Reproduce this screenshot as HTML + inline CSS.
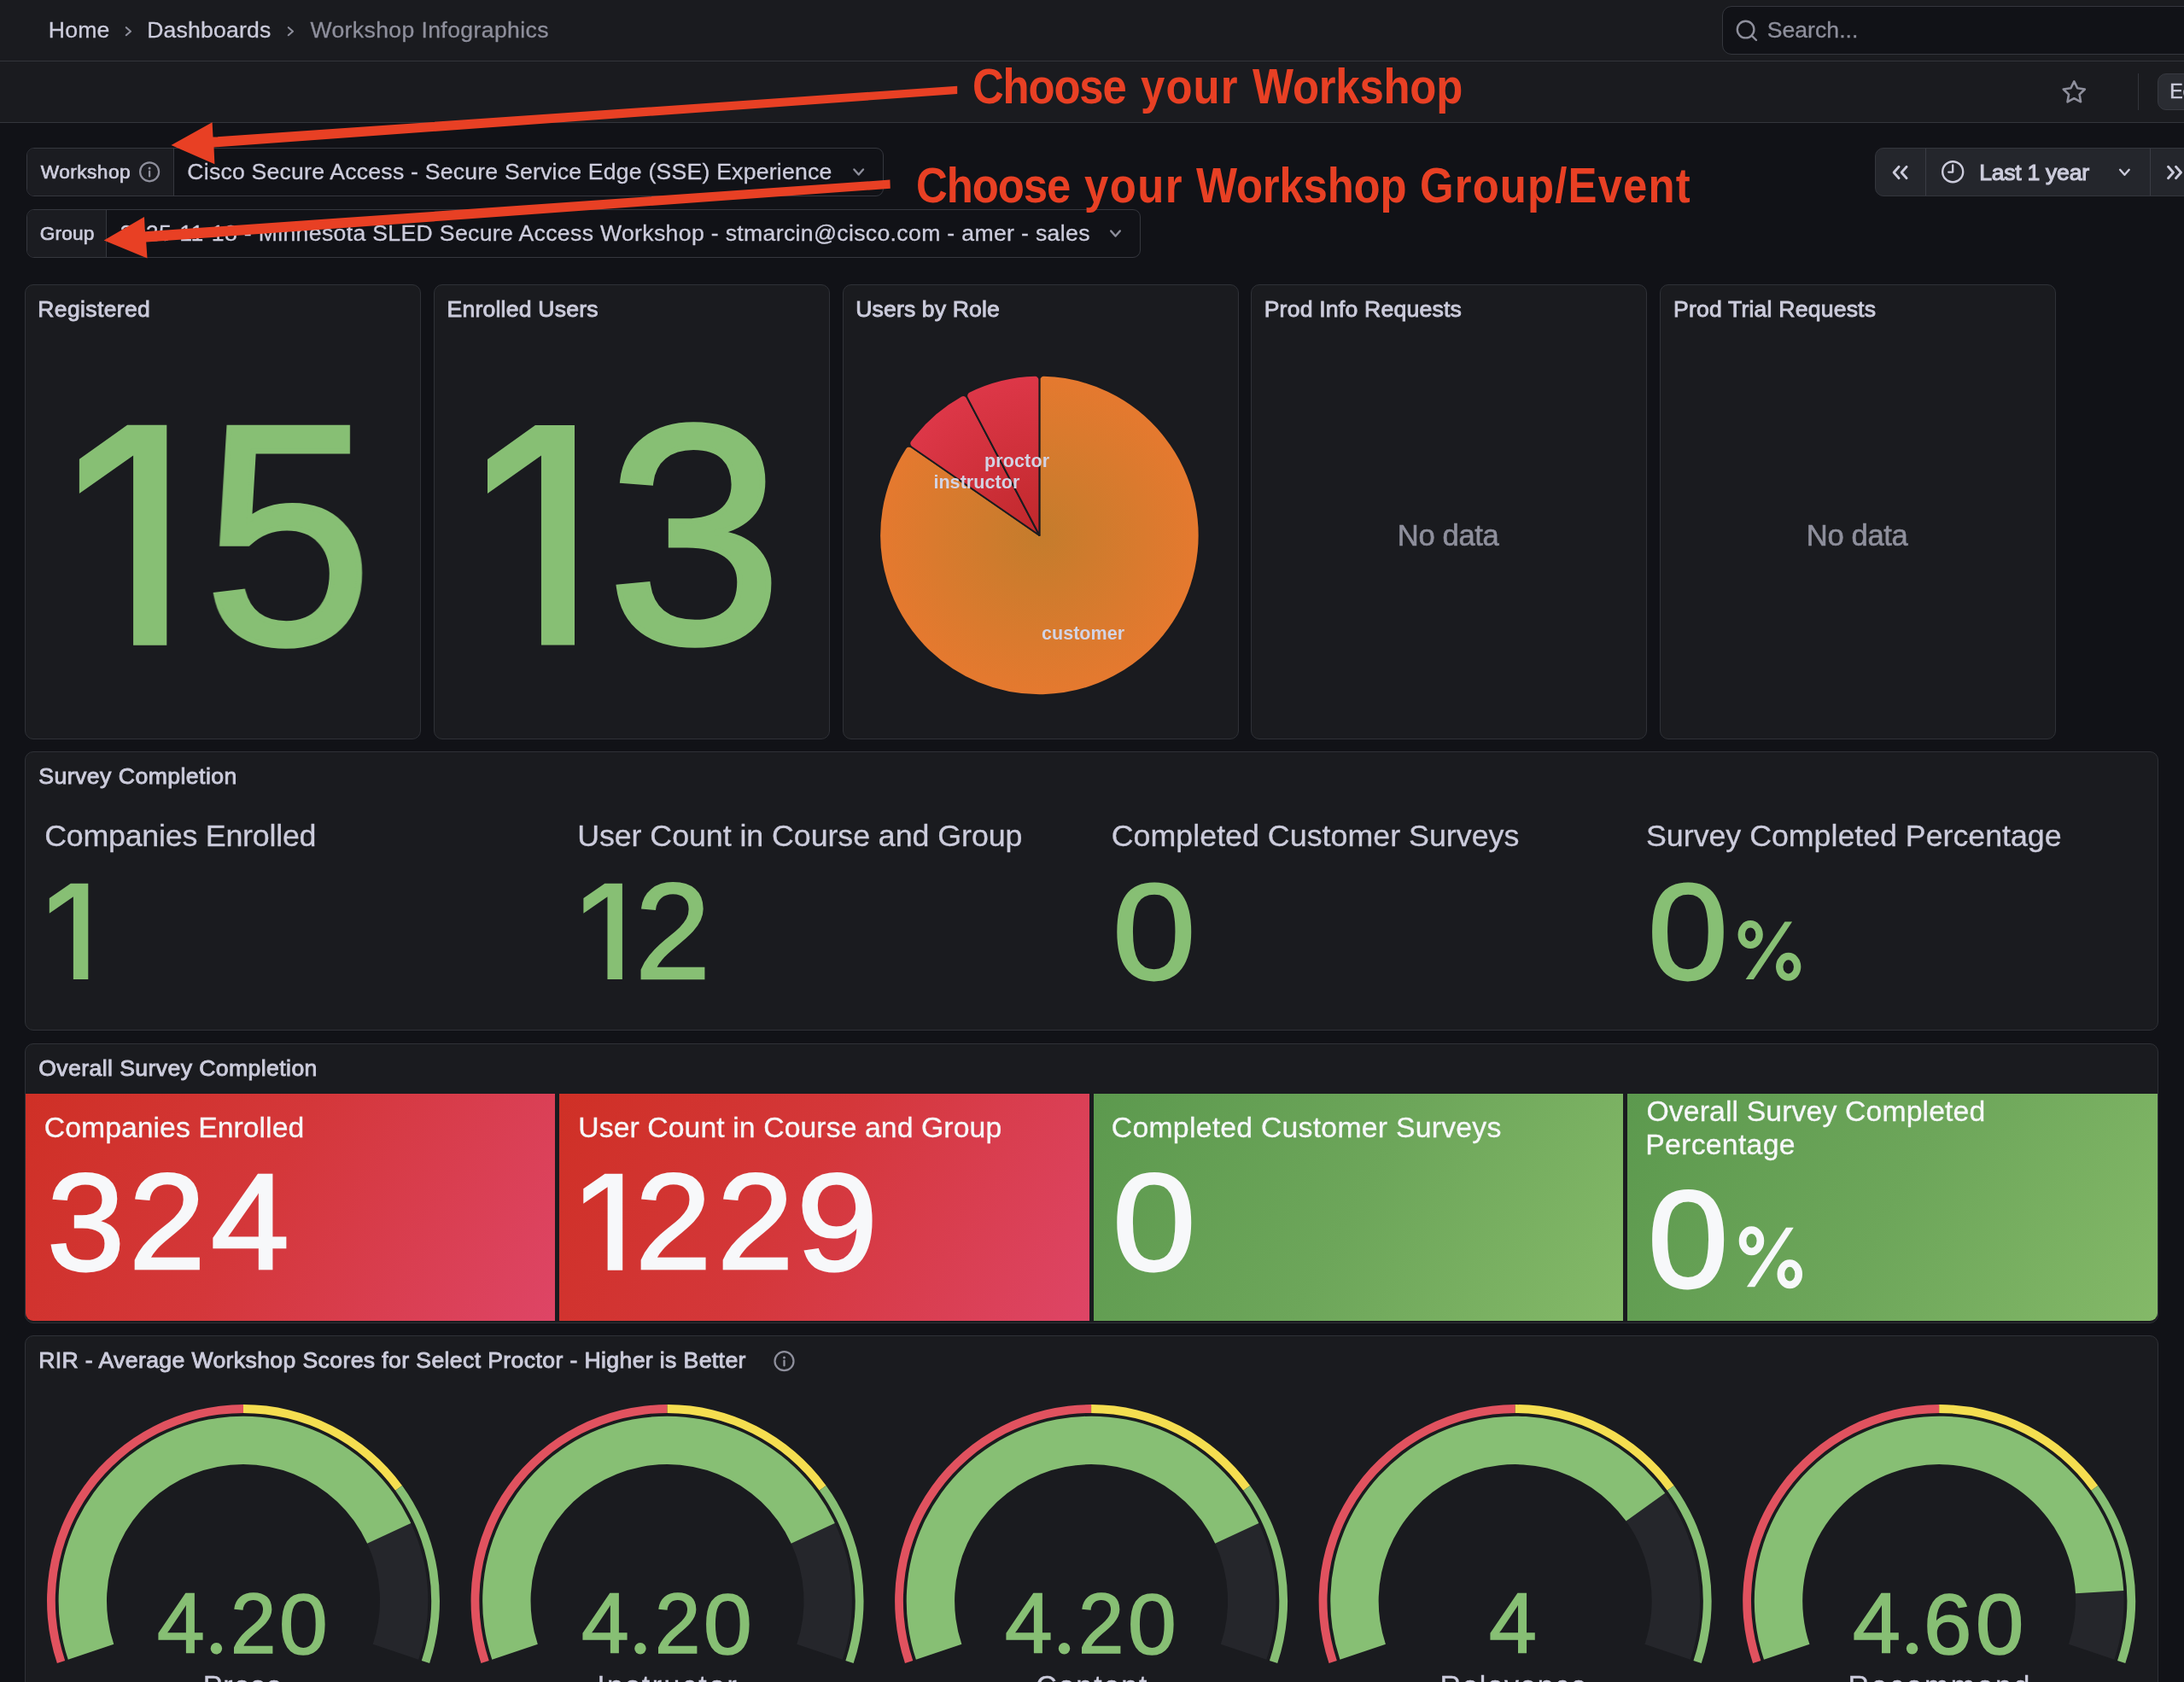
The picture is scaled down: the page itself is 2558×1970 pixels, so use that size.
<!DOCTYPE html>
<html lang="en"><head><meta charset="utf-8"><title>Workshop Infographics - Dashboards - Grafana</title>
<style>
html,body{margin:0;padding:0;}
html{background:#111217;}
body{width:2558px;height:1970px;background:#111217;font-family:"Liberation Sans",sans-serif;position:relative;}
.b{position:absolute;box-sizing:border-box;}
.t{position:absolute;white-space:pre;font-family:"Liberation Sans",sans-serif;}
svg.ov{position:absolute;left:0;top:0;pointer-events:none;}
</style></head><body>
<div id="app" style="position:absolute;left:0;top:0;width:2558px;height:1970px;overflow:hidden;will-change:transform">
<div class="b" style="left:0px;top:0px;width:2558px;height:144px;background:#1a1b1f;"></div>
<div class="b" style="left:0px;top:71px;width:2558px;height:1px;background:#33353b;"></div>
<div class="b" style="left:0px;top:143px;width:2558px;height:1px;background:#33353b;"></div>
<span class="t" style="left:56.86px;top:22.00px;font-size:26.60px;line-height:26.60px;color:#ccccdc;letter-spacing:0.190px;-webkit-text-stroke:0.3px #ccccdc;">Home</span>
<span class="t" style="left:172.16px;top:22.00px;font-size:26.60px;line-height:26.60px;color:#ccccdc;letter-spacing:0.187px;-webkit-text-stroke:0.3px #ccccdc;">Dashboards</span>
<span class="t" style="left:363.42px;top:22.00px;font-size:26.60px;line-height:26.60px;color:#8e8f9c;letter-spacing:0.379px;-webkit-text-stroke:0.3px #8e8f9c;">Workshop Infographics</span>
<div class="b" style="left:2017px;top:7px;width:583px;height:57px;background:#111217;border:1px solid #34363d;border-radius:11px;"></div>
<svg class="b" style="left:2030px;top:20px" width="32" height="32" viewBox="0 0 32 32"><circle cx="14.6" cy="14.6" r="9.8" fill="none" stroke="#8e8f9c" stroke-width="2.4"/><path d="M21.8 21.8 L27 27" stroke="#8e8f9c" stroke-width="2.4" stroke-linecap="round"/></svg>
<span class="t" style="left:2069.65px;top:22.00px;font-size:26.60px;line-height:26.60px;color:#8e8f9c;letter-spacing:0.041px;-webkit-text-stroke:0.3px #8e8f9c;">Search...</span>
<div class="b" style="left:2503.6px;top:86px;width:1.599999999999909px;height:43px;background:#33353c;"></div>
<div class="b" style="left:2527px;top:86px;width:93px;height:43px;background:#2a2c32;border:1px solid #383a41;border-radius:10px;"></div>
<span class="t" style="left:2541.34px;top:96.00px;font-size:23.13px;line-height:23.13px;color:#ccccdc;-webkit-text-stroke:0.5px #ccccdc;">Edit</span>
<div class="b" style="left:31px;top:173px;width:1004px;height:57px;background:#111217;border:1px solid #35373e;border-radius:9px;overflow:hidden"><div style="position:absolute;left:0;top:0;width:171.0px;height:100%;background:#1b1c21;border-right:1px solid #35373e"></div></div>
<div class="b" style="left:31px;top:245px;width:1305px;height:57px;background:#111217;border:1px solid #35373e;border-radius:9px;overflow:hidden"><div style="position:absolute;left:0;top:0;width:92.0px;height:100%;background:#1b1c21;border-right:1px solid #35373e"></div></div>
<span class="t" style="left:47.84px;top:190.00px;font-size:22.69px;line-height:22.69px;color:#ccccdc;letter-spacing:0.430px;-webkit-text-stroke:0.7px #ccccdc;">Workshop</span>
<span class="t" style="left:46.82px;top:262.00px;font-size:22.69px;line-height:22.69px;color:#ccccdc;letter-spacing:0.105px;-webkit-text-stroke:0.7px #ccccdc;">Group</span>
<span class="t" style="left:219.32px;top:188.00px;font-size:26.60px;line-height:26.60px;color:#ccccdc;letter-spacing:0.227px;-webkit-text-stroke:0.3px #ccccdc;">Cisco Secure Access - Secure Service Edge (SSE) Experience</span>
<span class="t" style="left:140.52px;top:260.00px;font-size:26.60px;line-height:26.60px;color:#ccccdc;letter-spacing:0.347px;-webkit-text-stroke:0.3px #ccccdc;">2025-11-18 - Minnesota SLED Secure Access Workshop - stmarcin@cisco.com - amer - sales</span>
<div class="b" style="left:2196px;top:173px;width:430px;height:57px;background:#24262c;border:1px solid #34363d;border-radius:10px"></div>
<div class="b" style="left:2255px;top:174px;width:1px;height:55px;background:#3a3c44;"></div>
<div class="b" style="left:2518px;top:174px;width:1px;height:55px;background:#3a3c44;"></div>
<span class="t" style="left:2318.16px;top:189.00px;font-size:26.60px;line-height:26.60px;color:#ccccdc;letter-spacing:-0.271px;-webkit-text-stroke:1.1px #ccccdc;">Last 1 year</span>
<div class="b" style="left:29px;top:333px;width:464px;height:533px;background:#1a1b1f;border:1px solid #2f3137;border-radius:10px;"></div>
<div class="b" style="left:508px;top:333px;width:464px;height:533px;background:#1a1b1f;border:1px solid #2f3137;border-radius:10px;"></div>
<div class="b" style="left:987px;top:333px;width:464px;height:533px;background:#1a1b1f;border:1px solid #2f3137;border-radius:10px;"></div>
<div class="b" style="left:1465px;top:333px;width:464px;height:533px;background:#1a1b1f;border:1px solid #2f3137;border-radius:10px;"></div>
<div class="b" style="left:1944px;top:333px;width:464px;height:533px;background:#1a1b1f;border:1px solid #2f3137;border-radius:10px;"></div>
<span class="t" style="left:44.27px;top:349.00px;font-size:26.47px;line-height:26.47px;color:#ccccdc;letter-spacing:0.394px;-webkit-text-stroke:0.9px #ccccdc;">Registered</span>
<span class="t" style="left:523.46px;top:349.00px;font-size:26.60px;line-height:26.60px;color:#ccccdc;letter-spacing:0.215px;-webkit-text-stroke:0.9px #ccccdc;">Enrolled Users</span>
<span class="t" style="left:1002.29px;top:349.00px;font-size:26.60px;line-height:26.60px;color:#ccccdc;letter-spacing:0.120px;-webkit-text-stroke:0.9px #ccccdc;">Users by Role</span>
<span class="t" style="left:1480.66px;top:349.00px;font-size:26.60px;line-height:26.60px;color:#ccccdc;letter-spacing:0.208px;-webkit-text-stroke:0.9px #ccccdc;">Prod Info Requests</span>
<span class="t" style="left:1959.96px;top:349.00px;font-size:26.60px;line-height:26.60px;color:#ccccdc;letter-spacing:0.195px;-webkit-text-stroke:0.9px #ccccdc;">Prod Trial Requests</span>
<span class="t" style="left:238.87px;top:443.00px;font-size:366.34px;line-height:366.34px;color:#87bf74;transform-origin:0 0;transform:scaleX(0.9667);-webkit-text-stroke:6.28px #87bf74;">5</span>
<span class="t" style="left:711.02px;top:444.00px;font-size:364.47px;line-height:364.47px;color:#87bf74;transform-origin:0 0;transform:scaleX(1.0135);-webkit-text-stroke:6.34px #87bf74;">3</span>
<span class="t" style="left:1636.84px;top:610.00px;font-size:34.62px;line-height:34.62px;color:#8e8f9c;letter-spacing:-0.363px;-webkit-text-stroke:0.6px #8e8f9c;">No data</span>
<span class="t" style="left:2115.84px;top:610.00px;font-size:34.62px;line-height:34.62px;color:#8e8f9c;letter-spacing:-0.363px;-webkit-text-stroke:0.6px #8e8f9c;">No data</span>
<div class="b" style="left:29px;top:880px;width:2499px;height:327px;background:#1a1b1f;border:1px solid #2f3137;border-radius:10px;"></div>
<span class="t" style="left:45.35px;top:896.00px;font-size:26.60px;line-height:26.60px;color:#ccccdc;letter-spacing:0.460px;-webkit-text-stroke:0.9px #ccccdc;">Survey Completion</span>
<span class="t" style="left:52.16px;top:962.00px;font-size:35.80px;line-height:35.80px;color:#ccccdc;letter-spacing:-0.238px;-webkit-text-stroke:0.3px #ccccdc;">Companies Enrolled</span>
<span class="t" style="left:676.18px;top:962.00px;font-size:35.80px;line-height:35.80px;color:#ccccdc;letter-spacing:-0.069px;-webkit-text-stroke:0.3px #ccccdc;">User Count in Course and Group</span>
<span class="t" style="left:1301.76px;top:962.00px;font-size:35.80px;line-height:35.80px;color:#ccccdc;letter-spacing:0.006px;-webkit-text-stroke:0.3px #ccccdc;">Completed Customer Surveys</span>
<span class="t" style="left:1928.04px;top:962.00px;font-size:35.80px;line-height:35.80px;color:#ccccdc;letter-spacing:-0.037px;-webkit-text-stroke:0.3px #ccccdc;">Survey Completed Percentage</span>
<span class="t" style="left:744.16px;top:1012.00px;font-size:158.95px;line-height:158.95px;color:#87bf74;transform-origin:0 0;transform:scaleX(0.9951);-webkit-text-stroke:2.73px #87bf74;">2</span>
<span class="t" style="left:1302.88px;top:1011.00px;font-size:159.75px;line-height:159.75px;color:#87bf74;transform-origin:0 0;transform:scaleX(1.0976);-webkit-text-stroke:2.78px #87bf74;">0</span>
<span class="t" style="left:1929.94px;top:1011.00px;font-size:159.75px;line-height:159.75px;color:#87bf74;transform-origin:0 0;transform:scaleX(1.0569);-webkit-text-stroke:2.78px #87bf74;">0</span>
<div class="b" style="left:29px;top:1222px;width:2499px;height:328px;background:#1a1b1f;border:1px solid #2f3137;border-radius:10px;overflow:hidden"></div>
<span class="t" style="left:45.29px;top:1238.00px;font-size:26.60px;line-height:26.60px;color:#ccccdc;letter-spacing:0.408px;-webkit-text-stroke:0.9px #ccccdc;">Overall Survey Completion</span>
<div class="b" style="left:30px;top:1281px;width:620px;height:266px;background:linear-gradient(120deg,#cf3026 0%,#d4373a 45%,#de4566 100%);border-bottom-left-radius:9px;"></div>
<div class="b" style="left:655px;top:1281px;width:620.5px;height:266px;background:linear-gradient(120deg,#cf3026 0%,#d4373a 45%,#de4566 100%);"></div>
<div class="b" style="left:1281px;top:1281px;width:620px;height:266px;background:linear-gradient(120deg,#5c994e 0%,#6da65a 50%,#84b968 100%);"></div>
<div class="b" style="left:1906.3px;top:1281px;width:620.3px;height:266px;background:linear-gradient(120deg,#5c994e 0%,#6da65a 50%,#84b968 100%);border-bottom-right-radius:9px;"></div>
<span class="t" style="left:51.86px;top:1304.00px;font-size:33.75px;line-height:33.75px;color:#f7f8fa;letter-spacing:0.025px;-webkit-text-stroke:0.3px #f7f8fa;">Companies Enrolled</span>
<span class="t" style="left:677.23px;top:1304.00px;font-size:33.75px;line-height:33.75px;color:#f7f8fa;letter-spacing:0.089px;-webkit-text-stroke:0.3px #f7f8fa;">User Count in Course and Group</span>
<span class="t" style="left:1301.86px;top:1304.00px;font-size:33.75px;line-height:33.75px;color:#f7f8fa;letter-spacing:0.252px;-webkit-text-stroke:0.3px #f7f8fa;">Completed Customer Surveys</span>
<span class="t" style="left:1928.45px;top:1285.00px;font-size:33.75px;line-height:33.75px;color:#f7f8fa;letter-spacing:0.126px;-webkit-text-stroke:0.3px #f7f8fa;">Overall Survey Completed</span>
<span class="t" style="left:1927.27px;top:1324.00px;font-size:33.75px;line-height:33.75px;color:#f7f8fa;letter-spacing:0.288px;-webkit-text-stroke:0.3px #f7f8fa;">Percentage</span>
<span class="t" style="left:55.06px;top:1351.00px;font-size:160.99px;line-height:160.99px;color:#f7f8fa;transform-origin:0 0;transform:scaleX(1.0174);-webkit-text-stroke:2.8px #f7f8fa;">3</span>
<span class="t" style="left:151.42px;top:1351.00px;font-size:159.94px;line-height:159.94px;color:#f7f8fa;transform-origin:0 0;transform:scaleX(1.0067);-webkit-text-stroke:2.74px #f7f8fa;">2</span>
<span class="t" style="left:246.84px;top:1351.00px;font-size:160.42px;line-height:160.42px;color:#f7f8fa;transform-origin:0 0;transform:scaleX(1.0281);-webkit-text-stroke:2.71px #f7f8fa;">4</span>
<span class="t" style="left:744.35px;top:1351.00px;font-size:159.94px;line-height:159.94px;color:#f7f8fa;transform-origin:0 0;transform:scaleX(1.0026);-webkit-text-stroke:2.74px #f7f8fa;">2</span>
<span class="t" style="left:839.73px;top:1351.00px;font-size:159.94px;line-height:159.94px;color:#f7f8fa;transform-origin:0 0;transform:scaleX(1.0053);-webkit-text-stroke:2.74px #f7f8fa;">2</span>
<span class="t" style="left:932.58px;top:1351.00px;font-size:160.99px;line-height:160.99px;color:#f7f8fa;transform-origin:0 0;transform:scaleX(1.0623);-webkit-text-stroke:2.8px #f7f8fa;">9</span>
<span class="t" style="left:1302.89px;top:1351.00px;font-size:160.99px;line-height:160.99px;color:#f7f8fa;transform-origin:0 0;transform:scaleX(1.0888);-webkit-text-stroke:2.8px #f7f8fa;">0</span>
<span class="t" style="left:1929.72px;top:1371.00px;font-size:160.85px;line-height:160.85px;color:#f7f8fa;transform-origin:0 0;transform:scaleX(1.0533);-webkit-text-stroke:2.8px #f7f8fa;">0</span>
<div class="b" style="left:29px;top:1564px;width:2499px;height:536px;background:#1a1b1f;border:1px solid #2f3137;border-radius:10px;"></div>
<span class="t" style="left:45.16px;top:1580.00px;font-size:26.60px;line-height:26.60px;color:#ccccdc;letter-spacing:0.382px;-webkit-text-stroke:0.9px #ccccdc;">RIR - Average Workshop Scores for Select Proctor - Higher is Better</span>
<span class="t" style="left:184.19px;top:1852.00px;font-size:99.37px;line-height:99.37px;color:#87bf74;transform-origin:0 0;transform:scaleX(1.0067);-webkit-text-stroke:1.68px #87bf74;">4</span>
<span class="t" style="left:269.95px;top:1852.00px;font-size:99.48px;line-height:99.48px;color:#87bf74;transform-origin:0 0;transform:scaleX(0.9652);-webkit-text-stroke:1.71px #87bf74;">2</span>
<span class="t" style="left:327.49px;top:1853.00px;font-size:99.87px;line-height:99.87px;color:#87bf74;transform-origin:0 0;transform:scaleX(1.0204);-webkit-text-stroke:1.74px #87bf74;">0</span>
<span class="t" style="left:680.74px;top:1852.00px;font-size:99.37px;line-height:99.37px;color:#87bf74;transform-origin:0 0;transform:scaleX(1.0067);-webkit-text-stroke:1.68px #87bf74;">4</span>
<span class="t" style="left:766.50px;top:1852.00px;font-size:99.48px;line-height:99.48px;color:#87bf74;transform-origin:0 0;transform:scaleX(0.9652);-webkit-text-stroke:1.71px #87bf74;">2</span>
<span class="t" style="left:824.04px;top:1853.00px;font-size:99.87px;line-height:99.87px;color:#87bf74;transform-origin:0 0;transform:scaleX(1.0204);-webkit-text-stroke:1.74px #87bf74;">0</span>
<span class="t" style="left:1177.29px;top:1852.00px;font-size:99.37px;line-height:99.37px;color:#87bf74;transform-origin:0 0;transform:scaleX(1.0067);-webkit-text-stroke:1.68px #87bf74;">4</span>
<span class="t" style="left:1263.05px;top:1852.00px;font-size:99.48px;line-height:99.48px;color:#87bf74;transform-origin:0 0;transform:scaleX(0.9652);-webkit-text-stroke:1.71px #87bf74;">2</span>
<span class="t" style="left:1320.59px;top:1853.00px;font-size:99.87px;line-height:99.87px;color:#87bf74;transform-origin:0 0;transform:scaleX(1.0204);-webkit-text-stroke:1.74px #87bf74;">0</span>
<span class="t" style="left:1744.48px;top:1852.00px;font-size:99.37px;line-height:99.37px;color:#87bf74;transform-origin:0 0;transform:scaleX(1.0107);-webkit-text-stroke:1.68px #87bf74;">4</span>
<span class="t" style="left:2170.08px;top:1852.00px;font-size:99.37px;line-height:99.37px;color:#87bf74;transform-origin:0 0;transform:scaleX(1.0107);-webkit-text-stroke:1.68px #87bf74;">4</span>
<span class="t" style="left:2253.01px;top:1853.00px;font-size:99.87px;line-height:99.87px;color:#87bf74;transform-origin:0 0;transform:scaleX(1.0123);-webkit-text-stroke:1.74px #87bf74;">6</span>
<span class="t" style="left:2313.53px;top:1853.00px;font-size:99.87px;line-height:99.87px;color:#87bf74;transform-origin:0 0;transform:scaleX(1.0120);-webkit-text-stroke:1.74px #87bf74;">0</span>
<span class="t" style="left:237.75px;top:1958.00px;font-size:33.90px;line-height:33.90px;color:#ccccdc;letter-spacing:0.993px;-webkit-text-stroke:0.3px #ccccdc;">Preso</span>
<span class="t" style="left:699.21px;top:1958.00px;font-size:33.90px;line-height:33.90px;color:#ccccdc;letter-spacing:2.485px;-webkit-text-stroke:0.3px #ccccdc;">Instructor</span>
<span class="t" style="left:1213.16px;top:1958.00px;font-size:33.90px;line-height:33.90px;color:#ccccdc;letter-spacing:1.936px;-webkit-text-stroke:0.3px #ccccdc;">Content</span>
<span class="t" style="left:1686.55px;top:1958.00px;font-size:33.90px;line-height:33.90px;color:#ccccdc;letter-spacing:1.445px;-webkit-text-stroke:0.3px #ccccdc;">Relevance</span>
<span class="t" style="left:2164.55px;top:1958.00px;font-size:33.90px;line-height:33.90px;color:#ccccdc;letter-spacing:2.573px;-webkit-text-stroke:0.3px #ccccdc;">Recommend</span>
<svg class="ov" width="2558" height="1970" viewBox="0 0 2558 1970"><path d="M147.80 32.20 L153.00 36.70 L147.80 41.20" fill="none" stroke="#8e8f9c" stroke-width="2.1" stroke-linecap="round" stroke-linejoin="round"/>
<path d="M337.80 32.20 L343.00 36.70 L337.80 41.20" fill="none" stroke="#8e8f9c" stroke-width="2.1" stroke-linecap="round" stroke-linejoin="round"/>
<polygon points="2429.30,95.40 2433.18,103.26 2441.85,104.52 2435.58,110.64 2437.06,119.28 2429.30,115.20 2421.54,119.28 2423.02,110.64 2416.75,104.52 2425.42,103.26" fill="none" stroke="#8e8f9c" stroke-width="2.6" stroke-linejoin="round"/>
<circle cx="175.1" cy="201.3" r="11" fill="none" stroke="#8e8f9c" stroke-width="2.2"/><circle cx="175.1" cy="197.0" r="1.5" fill="#8e8f9c"/><path d="M175.1 200.70000000000002 V206.5" stroke="#8e8f9c" stroke-width="2.3" stroke-linecap="round"/>
<path d="M1000.40 198.50 L1005.70 204.50 L1011.00 198.50" fill="none" stroke="#8e8f9c" stroke-width="2.4" stroke-linecap="round" stroke-linejoin="round"/>
<path d="M1301.20 270.50 L1306.50 276.50 L1311.80 270.50" fill="none" stroke="#8e8f9c" stroke-width="2.4" stroke-linecap="round" stroke-linejoin="round"/>
<path d="M2224.10 195.20 L2218.10 202.00 L2224.10 208.80 M2233.10 195.20 L2227.10 202.00 L2233.10 208.80 " fill="none" stroke="#ccccdc" stroke-width="2.8" stroke-linecap="round" stroke-linejoin="round"/>
<path d="M2539.50 195.20 L2545.50 202.00 L2539.50 208.80 M2548.50 195.20 L2554.50 202.00 L2548.50 208.80 " fill="none" stroke="#ccccdc" stroke-width="2.8" stroke-linecap="round" stroke-linejoin="round"/>
<circle cx="2287.2" cy="201.2" r="12" fill="none" stroke="#ccccdc" stroke-width="2.4"/><path d="M2287.2 193.5 V201.6 H2282.2" fill="none" stroke="#ccccdc" stroke-width="2.3" stroke-linecap="round" stroke-linejoin="round"/>
<path d="M2483.10 198.80 L2488.40 204.80 L2493.70 198.80" fill="none" stroke="#ccccdc" stroke-width="2.4" stroke-linecap="round" stroke-linejoin="round"/>
<polygon points="149.08,497.80 195.30,497.80 195.30,755.80 156.09,755.80 156.09,533.40 92.90,578.04 92.90,537.79" fill="#87bf74"/>
<polygon points="626.96,498.00 673.00,498.00 673.00,755.40 633.95,755.40 633.95,533.52 571.00,578.05 571.00,537.90" fill="#87bf74"/>
<defs><radialGradient id="go" gradientUnits="userSpaceOnUse" cx="1217.4" cy="627" r="187.2"><stop offset="0" stop-color="#c47c2c"/><stop offset="1" stop-color="#e5792f"/></radialGradient><radialGradient id="gr" gradientUnits="userSpaceOnUse" cx="1217.4" cy="627" r="187.2"><stop offset="0" stop-color="#c0282b"/><stop offset="1" stop-color="#dd3748"/></radialGradient></defs><path d="M1217.4 627 L1217.40 444.87 A5.0 5.0 0 0 1 1222.54 439.87 A187.2 187.2 0 1 1 1060.48 524.93 A5.0 5.0 0 0 1 1067.51 523.54 Z" fill="url(#go)" stroke="#1a1b1f" stroke-width="2.0" stroke-linejoin="round"/><path d="M1217.4 627 L1067.51 523.54 A5.0 5.0 0 0 1 1066.31 516.47 A187.2 187.2 0 0 1 1125.89 463.69 A5.0 5.0 0 0 1 1132.76 465.73 Z" fill="url(#gr)" stroke="#1a1b1f" stroke-width="2.0" stroke-linejoin="round"/><path d="M1217.4 627 L1132.76 465.73 A5.0 5.0 0 0 1 1134.99 458.92 A187.2 187.2 0 0 1 1212.26 439.87 A5.0 5.0 0 0 1 1217.40 444.87 Z" fill="url(#gr)" stroke="#1a1b1f" stroke-width="2.0" stroke-linejoin="round"/>
<polygon points="82.76,1034.70 103.30,1034.70 103.30,1147.00 85.88,1147.00 85.88,1050.20 57.80,1069.63 57.80,1052.11" fill="#87bf74"/>
<polygon points="708.36,1034.70 728.90,1034.70 728.90,1147.00 711.48,1147.00 711.48,1050.20 683.40,1069.63 683.40,1052.11" fill="#87bf74"/>
<ellipse cx="2050.17" cy="1094.57" rx="10.46" ry="12.27" fill="none" stroke="#87bf74" stroke-width="8.41"/><ellipse cx="2094.68" cy="1132.33" rx="10.46" ry="12.27" fill="none" stroke="#87bf74" stroke-width="8.41"/><polygon points="2090.48,1079.51 2099.10,1079.51 2053.85,1146.96 2044.64,1146.96" fill="#87bf74"/>
<polygon points="708.48,1374.70 729.20,1374.70 729.20,1487.70 711.63,1487.70 711.63,1390.29 683.30,1409.84 683.30,1392.22" fill="#f7f8fa"/>
<ellipse cx="2051.47" cy="1453.21" rx="10.42" ry="12.67" fill="none" stroke="#f7f8fa" stroke-width="8.69"/><ellipse cx="2096.28" cy="1492.19" rx="10.42" ry="12.67" fill="none" stroke="#f7f8fa" stroke-width="8.69"/><polygon points="2092.05,1437.66 2100.73,1437.66 2055.18,1507.30 2045.90,1507.30" fill="#f7f8fa"/>
<circle cx="918.5" cy="1594.2" r="11" fill="none" stroke="#8e8f9c" stroke-width="2.2"/><circle cx="918.5" cy="1589.9" r="1.5" fill="#8e8f9c"/><path d="M918.5 1593.6000000000001 V1599.4" stroke="#8e8f9c" stroke-width="2.3" stroke-linecap="round"/>
<path d="M66.89 1948.08 A230 230 0 0 1 285.00 1645.10 L285.00 1654.90 A220.2 220.2 0 0 0 76.18 1944.97 Z" fill="#e1525f"/>
<path d="M285.00 1645.10 A230 230 0 0 1 471.07 1739.91 L463.15 1745.67 A220.2 220.2 0 0 0 285.00 1654.90 Z" fill="#f5de50"/>
<path d="M471.07 1739.91 A230 230 0 0 1 503.11 1948.08 L493.82 1944.97 A220.2 220.2 0 0 0 463.15 1745.67 Z" fill="#87bf74"/>
<path d="M481.28 1783.99 A216.4 216.4 0 0 1 490.22 1943.76 L436.73 1925.87 A160 160 0 0 0 430.13 1807.73 Z" fill="#25262b"/>
<path d="M79.78 1943.76 A216.4 216.4 0 0 1 481.28 1783.99 L430.13 1807.73 A160 160 0 0 0 133.27 1925.87 Z" fill="#87bf74"/>
<path d="M563.44 1948.08 A230 230 0 0 1 781.55 1645.10 L781.55 1654.90 A220.2 220.2 0 0 0 572.73 1944.97 Z" fill="#e1525f"/>
<path d="M781.55 1645.10 A230 230 0 0 1 967.62 1739.91 L959.70 1745.67 A220.2 220.2 0 0 0 781.55 1654.90 Z" fill="#f5de50"/>
<path d="M967.62 1739.91 A230 230 0 0 1 999.66 1948.08 L990.37 1944.97 A220.2 220.2 0 0 0 959.70 1745.67 Z" fill="#87bf74"/>
<path d="M977.83 1783.99 A216.4 216.4 0 0 1 986.77 1943.76 L933.28 1925.87 A160 160 0 0 0 926.68 1807.73 Z" fill="#25262b"/>
<path d="M576.33 1943.76 A216.4 216.4 0 0 1 977.83 1783.99 L926.68 1807.73 A160 160 0 0 0 629.82 1925.87 Z" fill="#87bf74"/>
<path d="M1059.99 1948.08 A230 230 0 0 1 1278.10 1645.10 L1278.10 1654.90 A220.2 220.2 0 0 0 1069.28 1944.97 Z" fill="#e1525f"/>
<path d="M1278.10 1645.10 A230 230 0 0 1 1464.17 1739.91 L1456.25 1745.67 A220.2 220.2 0 0 0 1278.10 1654.90 Z" fill="#f5de50"/>
<path d="M1464.17 1739.91 A230 230 0 0 1 1496.21 1948.08 L1486.92 1944.97 A220.2 220.2 0 0 0 1456.25 1745.67 Z" fill="#87bf74"/>
<path d="M1474.38 1783.99 A216.4 216.4 0 0 1 1483.32 1943.76 L1429.83 1925.87 A160 160 0 0 0 1423.23 1807.73 Z" fill="#25262b"/>
<path d="M1072.88 1943.76 A216.4 216.4 0 0 1 1474.38 1783.99 L1423.23 1807.73 A160 160 0 0 0 1126.37 1925.87 Z" fill="#87bf74"/>
<path d="M1556.54 1948.08 A230 230 0 0 1 1774.65 1645.10 L1774.65 1654.90 A220.2 220.2 0 0 0 1565.83 1944.97 Z" fill="#e1525f"/>
<path d="M1774.65 1645.10 A230 230 0 0 1 1960.72 1739.91 L1952.80 1745.67 A220.2 220.2 0 0 0 1774.65 1654.90 Z" fill="#f5de50"/>
<path d="M1960.72 1739.91 A230 230 0 0 1 1992.76 1948.08 L1983.47 1944.97 A220.2 220.2 0 0 0 1952.80 1745.67 Z" fill="#87bf74"/>
<path d="M1950.27 1748.67 A216.4 216.4 0 0 1 1979.87 1943.76 L1926.38 1925.87 A160 160 0 0 0 1904.50 1781.62 Z" fill="#25262b"/>
<path d="M1569.43 1943.76 A216.4 216.4 0 0 1 1950.27 1748.67 L1904.50 1781.62 A160 160 0 0 0 1622.92 1925.87 Z" fill="#87bf74"/>
<path d="M2053.09 1948.08 A230 230 0 0 1 2271.20 1645.10 L2271.20 1654.90 A220.2 220.2 0 0 0 2062.38 1944.97 Z" fill="#e1525f"/>
<path d="M2271.20 1645.10 A230 230 0 0 1 2457.27 1739.91 L2449.35 1745.67 A220.2 220.2 0 0 0 2271.20 1654.90 Z" fill="#f5de50"/>
<path d="M2457.27 1739.91 A230 230 0 0 1 2489.31 1948.08 L2480.02 1944.97 A220.2 220.2 0 0 0 2449.35 1745.67 Z" fill="#87bf74"/>
<path d="M2487.26 1863.02 A216.4 216.4 0 0 1 2476.42 1943.76 L2422.93 1925.87 A160 160 0 0 0 2430.95 1866.17 Z" fill="#25262b"/>
<path d="M2065.98 1943.76 A216.4 216.4 0 1 1 2487.26 1863.02 L2430.95 1866.17 A160 160 0 1 0 2119.47 1925.87 Z" fill="#87bf74"/>
<circle cx="253.40" cy="1930.65" r="6.75" fill="#87bf74"/>
<circle cx="749.95" cy="1930.65" r="6.75" fill="#87bf74"/>
<circle cx="1246.50" cy="1930.65" r="6.75" fill="#87bf74"/>
<circle cx="2239.55" cy="1930.65" r="6.75" fill="#87bf74"/>
<polygon points="1121.2,100.7 1121.2,110.0 250.5,172.4 251.4,192.2 200.5,170.1 248.6,143.3 249.5,160.6" fill="#e84024"/>
<polygon points="1042.4,210.6 1042.8,220.7 171.2,283.6 172.5,302.6 121.7,281.5 169,254 169.8,271.3" fill="#e84024"/></svg>
<span class="t" style="left:1138.77px;top:74.00px;font-size:56.50px;line-height:56.50px;color:#e84024;letter-spacing:-1.284px;font-weight:700;transform-origin:0 0;transform:scaleX(0.9);">Choose</span>
<span class="t" style="left:1336.22px;top:74.00px;font-size:56.50px;line-height:56.50px;color:#e84024;letter-spacing:1.232px;font-weight:700;transform-origin:0 0;transform:scaleX(0.9);">your</span>
<span class="t" style="left:1466.80px;top:74.00px;font-size:56.50px;line-height:56.50px;color:#e84024;letter-spacing:-0.223px;font-weight:700;transform-origin:0 0;transform:scaleX(0.9);">Workshop</span>
<span class="t" style="left:1072.67px;top:190.00px;font-size:56.50px;line-height:56.50px;color:#e84024;letter-spacing:-1.151px;font-weight:700;transform-origin:0 0;transform:scaleX(0.9);">Choose</span>
<span class="t" style="left:1270.32px;top:190.00px;font-size:56.50px;line-height:56.50px;color:#e84024;letter-spacing:1.602px;font-weight:700;transform-origin:0 0;transform:scaleX(0.9);">your</span>
<span class="t" style="left:1400.80px;top:190.00px;font-size:56.50px;line-height:56.50px;color:#e84024;letter-spacing:-0.191px;font-weight:700;transform-origin:0 0;transform:scaleX(0.9);">Workshop</span>
<span class="t" style="left:1663.17px;top:190.00px;font-size:56.50px;line-height:56.50px;color:#e84024;letter-spacing:1.286px;font-weight:700;transform-origin:0 0;transform:scaleX(0.9);">Group/Event</span>
<span class="t" style="left:1153.00px;top:530.00px;font-size:21.50px;line-height:21.50px;color:#d3d3e3;letter-spacing:0.128px;font-weight:700;">proctor</span>
<span class="t" style="left:1093.39px;top:555.00px;font-size:21.50px;line-height:21.50px;color:#d3d3e3;letter-spacing:0.064px;font-weight:700;">instructor</span>
<span class="t" style="left:1219.94px;top:732.00px;font-size:21.50px;line-height:21.50px;color:#d3d3e3;letter-spacing:0.054px;font-weight:700;">customer</span>
</div>
</body></html>
